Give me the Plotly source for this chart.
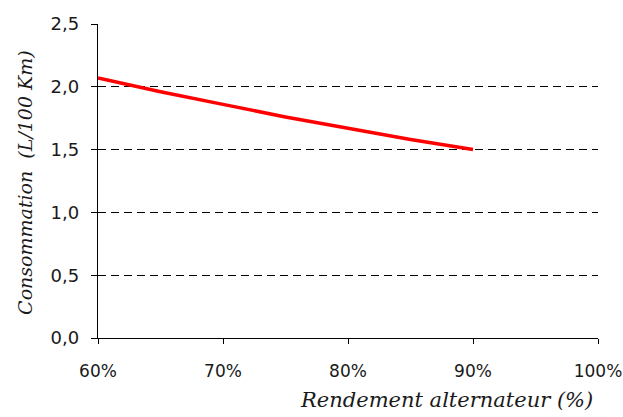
import plotly.graph_objects as go

rendement = [0.60, 0.65, 0.70, 0.75, 0.80, 0.85, 0.90]
consommation = [2.07, 1.96, 1.86, 1.76, 1.67, 1.58, 1.50]

y_ticks = [0.0, 0.5, 1.0, 1.5, 2.0, 2.5]
x_ticks = [0.6, 0.7, 0.8, 0.9, 1.0]

TXT = "#1a1a1a"

fig = go.Figure()
fig.add_trace(go.Scatter(x=rendement, y=consommation, mode="lines",
                         line=dict(color="#ff0000", width=3.5), showlegend=False))

fig.update_layout(
    width=623, height=417,
    margin=dict(l=98, r=25, t=24, b=79, autoexpand=False),
    paper_bgcolor="white", plot_bgcolor="white",
    separators=", ",
    font=dict(family="DejaVu Sans", size=18, color=TXT),
    xaxis=dict(range=[0.6, 1.0], tickvals=x_ticks, tickformat=".0%", automargin=False,
               showgrid=False, zeroline=False, showline=True, linecolor="black", linewidth=1.3,
               ticks="outside", ticklen=5, tickcolor="black", tickwidth=1.3,
               ticklabelstandoff=12, ticklabeloverflow="allow",
               tickfont=dict(family="DejaVu Sans", size=17, color=TXT)),
    yaxis=dict(range=[0, 2.5], tickvals=y_ticks, tickformat=".1f", automargin=False,
               showgrid=True, gridcolor="black", griddash="8px,5px", gridwidth=1.2,
               zeroline=False, showline=True, linecolor="black", linewidth=1.3,
               ticks="outside", ticklen=6, tickcolor="black", tickwidth=1.3,
               ticklabelstandoff=8, ticklabeloverflow="allow"),
    annotations=[
        dict(text="Rendement alternateur (%)", xref="paper", yref="paper",
             x=0.994, y=-0.197, xanchor="right", yanchor="middle", showarrow=False,
             font=dict(family="DejaVu Serif", size=21, style="italic", color=TXT)),
        dict(text="Consommation  (L/100 Km)", xref="paper", yref="paper",
             x=-0.146, y=0.494, xanchor="center", yanchor="middle", showarrow=False,
             textangle=-90,
             font=dict(family="DejaVu Serif", size=19, style="italic", color=TXT)),
    ],
)

fig.write_html("out.html", config={"displayModeBar": False},
               post_script="document.body.style.margin='0';document.body.style.overflow='hidden';")
